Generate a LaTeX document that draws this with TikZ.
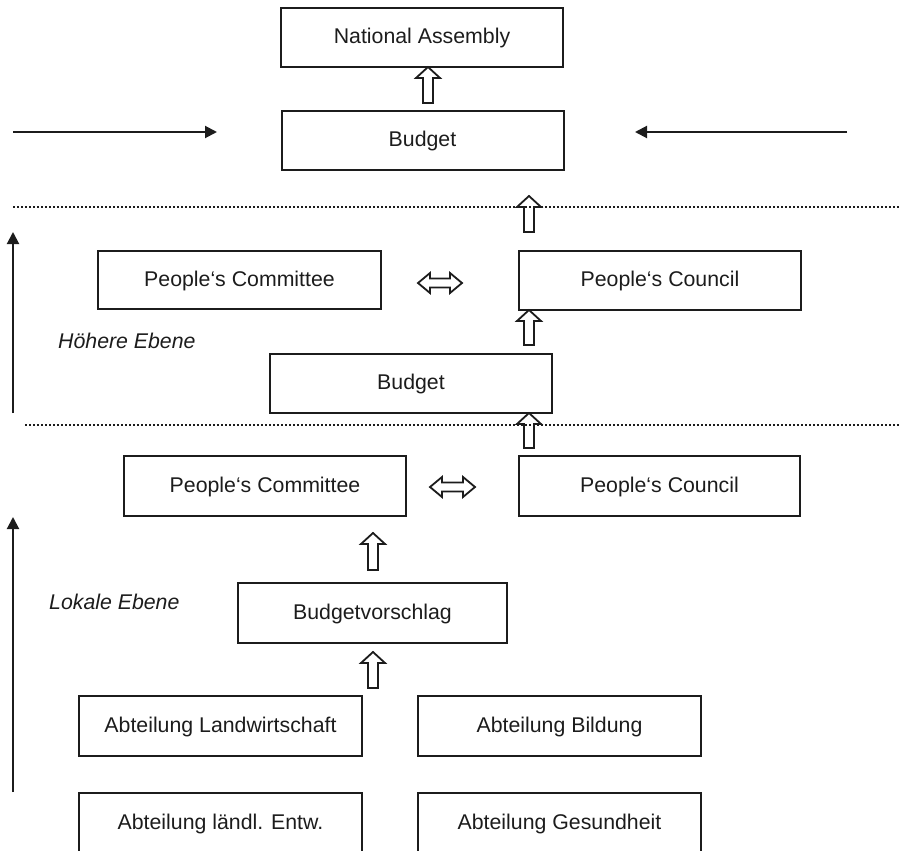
\documentclass[tikz,border=0pt]{standalone}
\usepackage{fontspec}
\setmainfont{Liberation Sans}
\usetikzlibrary{arrows.meta,calc}
\definecolor{ink}{RGB}{28,28,28}
\tikzset{
  box/.style={draw=ink, line width=2pt, text=ink, minimum width=282pt, minimum height=59pt,
    inner sep=0pt, text height=15pt, text depth=3pt, font=\fontsize{21.3}{25}\selectfont},
  lbl/.style={text=ink, inner sep=0pt, anchor=west, text height=15pt, text depth=3pt,
    font=\fontsize{21.3}{25}\selectfont\itshape},
  thin/.style={draw=ink, line width=2pt, -{Triangle[length=12pt,width=12pt]}},
  dotline/.style={draw=ink, line width=2.2pt, dash pattern=on 2pt off 2pt},
  hollowup/.style={draw=ink, line width=1.8pt, to path={let \p1=(\tikztostart), \p2=(\tikztotarget) in
    (\x2,\y2) -- (\x2+12pt,\y2-11pt) -- (\x2+5pt,\y2-11pt) -- (\x2+5pt,\y1) -- (\x2-5pt,\y1)
    -- (\x2-5pt,\y2-11pt) -- (\x2-12pt,\y2-11pt) -- cycle}},
  hollowlr/.style={draw=ink, line width=1.8pt, to path={let \p1=(\tikztostart), \p2=(\tikztotarget) in
    (\x1,\y1) -- (\x1+12pt,\y1+10pt) -- (\x1+12pt,\y1+4.5pt) -- (\x2-12pt,\y1+4.5pt)
    -- (\x2-12pt,\y1+10pt) -- (\x2,\y1) -- (\x2-12pt,\y1-10pt) -- (\x2-12pt,\y1-4.5pt)
    -- (\x1+12pt,\y1-4.5pt) -- (\x1+12pt,\y1-10pt) -- cycle}}
}
\begin{document}
\begin{tikzpicture}[x=1pt,y=-1pt]
\useasboundingbox (0,0) rectangle (908,851);
\clip (0,0) rectangle (908,851);
% boxes
\node[box] (na) at (422,37.5) {National Assembly};
\node[box] (b1) at (422.5,140.5) {Budget};
\node[box, minimum width=283pt, minimum height=58pt] (pcom1) at (239.5,280) {People‘s Committee};
\node[box] (pcou1) at (660,280.5) {People‘s Council};
\node[box] (b2) at (411,383.5) {Budget};
\node[box, minimum height=60pt] (pcom2) at (265,486) {People‘s Committee};
\node[box, minimum width=281pt, minimum height=60pt] (pcou2) at (659.5,486) {People‘s Council};
\node[box, minimum width=269pt, minimum height=60pt] (bv) at (372.5,613) {Budgetvorschlag};
\node[box, minimum width=283pt, minimum height=60pt] (al) at (220.5,726) {Abteilung Landwirtschaft};
\node[box, minimum width=283pt, minimum height=60pt] (ab) at (559.5,726) {Abteilung Bildung};
\node[box, minimum width=283pt, minimum height=60pt] (ae) at (220.5,823) {Abteilung ländl. Entw.};
\node[box, minimum width=283pt, minimum height=60pt] (ag) at (559.5,823) {Abteilung Gesundheit};
% labels
\node[lbl] (hoe) at (58,342) {Höhere Ebene};
\node[lbl] (lok) at (49,603) {Lokale Ebene};
% dotted separators
\coordinate (d1l) at (13,207); \coordinate (d1r) at (900,207);
\coordinate (d2l) at (25,425); \coordinate (d2r) at (900,425);
\draw[dotline] (d1l) -- (d1r);
\draw[dotline] (d2l) -- (d2r);
% thin arrows
\coordinate (tl0) at (13,132); \coordinate (tl1) at (217,132);
\coordinate (tr0) at (847,132); \coordinate (tr1) at (635,132);
\coordinate (vu0) at (13,413); \coordinate (vu1) at (13,232);
\coordinate (vl0) at (13,792); \coordinate (vl1) at (13,517);
\draw[thin] (tl0) -- (tl1);
\draw[thin] (tr0) -- (tr1);
\draw[thin] (vu0) -- (vu1);
\draw[thin] (vl0) -- (vl1);
% hollow up arrows
\coordinate (h1a) at (428,103); \coordinate (h1b) at (428,67);
\coordinate (h2a) at (529,232); \coordinate (h2b) at (529,196);
\coordinate (h3a) at (529,345); \coordinate (h3b) at (529,310);
\coordinate (h4a) at (529,448); \coordinate (h4b) at (529,413);
\coordinate (h5a) at (373,570); \coordinate (h5b) at (373,533);
\coordinate (h6a) at (373,688); \coordinate (h6b) at (373,652);
\draw[hollowup] (h1a) to (h1b);
\draw[hollowup] (h2a) to (h2b);
\draw[hollowup] (h3a) to (h3b);
\draw[hollowup] (h4a) to (h4b);
\draw[hollowup] (h5a) to (h5b);
\draw[hollowup] (h6a) to (h6b);
% double hollow arrows
\coordinate (x1a) at (418,283); \coordinate (x1b) at (462,283);
\coordinate (x2a) at (430,487); \coordinate (x2b) at (475,487);
\draw[hollowlr] (x1a) to (x1b);
\draw[hollowlr] (x2a) to (x2b);
\end{tikzpicture}
\end{document}
